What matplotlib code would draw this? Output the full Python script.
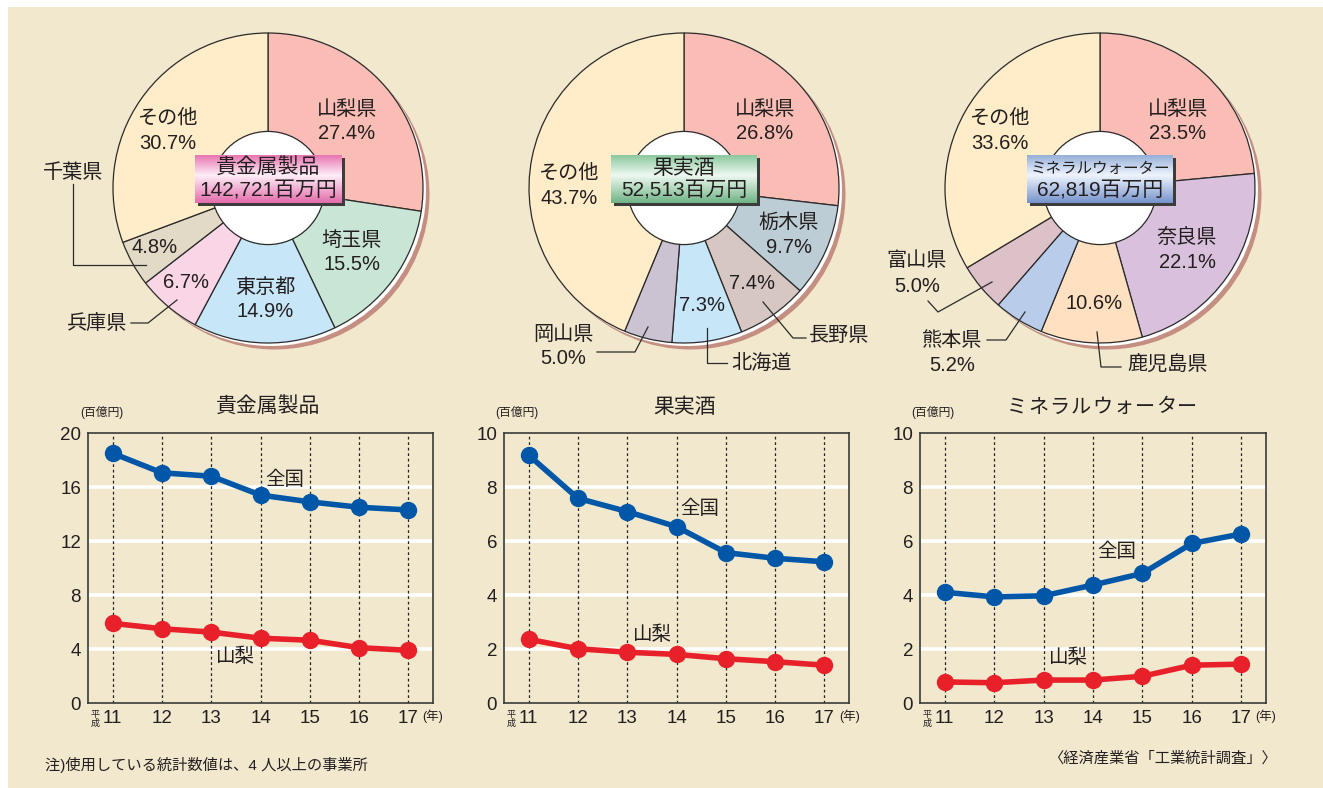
import numpy as np
import matplotlib
matplotlib.use("Agg")
import matplotlib.pyplot as plt
from matplotlib.patches import Circle, Rectangle

plt.rcParams['font.family'] = ['Liberation Sans', 'Noto Sans CJK JP', 'DejaVu Sans']

# ---------------- data ----------------
pie1_title = "貴金属製品"
pie1_total = "142,721百万円"
pie1_labels = ["山梨県", "埼玉県", "東京都", "兵庫県", "千葉県", "その他"]
pie1_values = [27.4, 15.5, 14.9, 6.7, 4.8, 30.7]
pie1_colors = ["#F9BDB5", "#C9E5D5", "#C7E7F9", "#F9D5E5", "#E2DAC6", "#FFEDC9"]

pie2_title = "果実酒"
pie2_total = "52,513百万円"
pie2_labels = ["山梨県", "栃木県", "長野県", "北海道", "岡山県", "その他"]
pie2_values = [26.8, 9.7, 7.4, 7.3, 5.0, 43.7]
pie2_colors = ["#F9BDB5", "#BDCDD5", "#D6C7C3", "#C7E7F9", "#CBC3D1", "#FFEDC9"]

pie3_title = "ミネラルウォーター"
pie3_total = "62,819百万円"
pie3_labels = ["山梨県", "奈良県", "鹿児島県", "熊本県", "富山県", "その他"]
pie3_values = [23.5, 22.1, 10.6, 5.2, 5.0, 33.6]
pie3_colors = ["#F9BDB5", "#D9C1DD", "#FFE1C1", "#B9CDEB", "#DDC1C9", "#FFEDC9"]

years = [11, 12, 13, 14, 15, 16, 17]
kikinzoku_zenkoku = [18.5, 17.05, 16.8, 15.4, 14.9, 14.5, 14.3]
kikinzoku_yamanashi = [5.9, 5.5, 5.25, 4.8, 4.65, 4.1, 3.9]
kajitsushu_zenkoku = [9.18, 7.58, 7.09, 6.53, 5.57, 5.36, 5.23]
kajitsushu_yamanashi = [2.36, 2.01, 1.88, 1.80, 1.64, 1.53, 1.40]
mineral_zenkoku = [4.1, 3.93, 3.97, 4.37, 4.8, 5.91, 6.26]
mineral_yamanashi = [0.78, 0.75, 0.85, 0.85, 0.99, 1.40, 1.44]

# ---------------- figure ----------------
W, H = 1323, 788
fig = plt.figure(figsize=(W / 100, H / 100), dpi=100, facecolor="white")
BG = "#F1E8CE"
TXT = "#231F20"

ax_bg = fig.add_axes([0, 0, 1, 1], zorder=-10)
ax_bg.set_xlim(0, W)
ax_bg.set_ylim(H, 0)
ax_bg.axis("off")
ax_bg.add_patch(Rectangle((8, 7), W, H, facecolor=BG, edgecolor="none"))


def px_axes(x0, y0, x1, y1, **kw):
    return fig.add_axes([x0 / W, 1 - y1 / H, (x1 - x0) / W, (y1 - y0) / H], **kw)


R = 155.0
LIM = 1.2


def draw_pie(cx, cy, values, colors):
    s = R * LIM
    ax = px_axes(cx - s, cy - s, cx + s, cy + s)
    ax.set_facecolor("none")
    off1 = 3.0 / R
    off2 = 6.5 / R
    ax.add_patch(Circle((off2, -off2), 1.0, facecolor="#C48E80", edgecolor="none", zorder=0))
    ax.add_patch(Circle((off1, -off1), 1.0, facecolor="white", edgecolor="none", zorder=0.5))
    wedges, _ = ax.pie(values, colors=colors, startangle=90, counterclock=False,
                       radius=1.0,
                       wedgeprops=dict(edgecolor="#2A2A2A", linewidth=0.9))
    for w in wedges:
        w.set_zorder(1)
    ax.add_patch(Circle((0, 0), 0.365, facecolor="white", edgecolor="#2A2A2A",
                        linewidth=0.9, zorder=2))
    ax.set_xlim(-LIM, LIM)
    ax.set_ylim(-LIM, LIM)
    ax.set_aspect("equal")
    ax.axis("off")
    return ax


draw_pie(268, 188, pie1_values, pie1_colors)
draw_pie(684, 188, pie2_values, pie2_colors)
draw_pie(1100, 188, pie3_values, pie3_colors)


# ---------------- line charts ----------------
def draw_line(x0, x1, ymax, zen, yam, yticks):
    ax = px_axes(x0, 433, x1, 703)
    ax.set_facecolor("none")
    ax.set_xlim(10.5, 17.5)
    ax.set_ylim(0, ymax)
    for t in yticks[1:-1]:
        ax.axhline(t, color="white", lw=2.6, zorder=1)
    for yr in years:
        ax.axvline(yr, color="#222222", lw=0.9, ls=(0, (2.2, 2.2)), zorder=2)
    ax.plot(years, zen, color="#0057A8", lw=4, marker="o", ms=11.5, zorder=4,
            solid_capstyle="round")
    ax.plot(years, yam, color="#E8202A", lw=4, marker="o", ms=11.5, zorder=4,
            solid_capstyle="round")
    ax.set_yticks(yticks)
    ax.set_yticklabels([str(t) for t in yticks])
    ax.set_xticks(years)
    ax.set_xticklabels([str(y) for y in years])
    ax.tick_params(length=0, labelsize=13.5, colors=TXT, pad=5)
    for sp in ax.spines.values():
        sp.set_color("#3A3A3A")
        sp.set_linewidth(1.2)
        sp.set_zorder(5)
    return ax


draw_line(88, 433, 20, kikinzoku_zenkoku, kikinzoku_yamanashi, [0, 4, 8, 12, 16, 20])
draw_line(504, 849, 10, kajitsushu_zenkoku, kajitsushu_yamanashi, [0, 2, 4, 6, 8, 10])
draw_line(920, 1266, 10, mineral_zenkoku, mineral_yamanashi, [0, 2, 4, 6, 8, 10])

# ---------------- overlay ----------------
ov = fig.add_axes([0, 0, 1, 1], zorder=20)
ov.set_facecolor("none")
ov.axis("off")


def grad_img(top, mid, bot, n=64):
    t = np.linspace(0, 1, n)
    top, mid, bot = [np.array(c, float) / 255 for c in (top, mid, bot)]
    rows = []
    for v in t:
        if v < 0.42:
            f = v / 0.42
            c = top * (1 - f) + mid * f
        else:
            f = (v - 0.42) / 0.58
            c = mid * (1 - f) + bot * f
        rows.append(c)
    return np.array(rows)[:, None, :]


def center_box(x0, x1, y0, y1, grad, line1, line2, fs1=15):
    ov.add_patch(Rectangle((x0 + 3, y0 + 3), x1 - x0, y1 - y0, facecolor="#3C3C3C",
                           edgecolor="none", zorder=3))
    ov.imshow(grad, extent=(x0, x1, y1, y0), origin="upper", aspect="auto", zorder=4,
              interpolation="bilinear")
    cx = (x0 + x1) / 2
    ov.text(cx, y0 + 13, line1, ha="center", va="center", fontsize=fs1, color=TXT, zorder=6)
    ov.text(cx, y0 + 36, line2, ha="center", va="center", fontsize=15, color=TXT, zorder=6)


center_box(195, 342, 155, 203, grad_img((232, 118, 178), (254, 238, 247), (228, 108, 172)),
           pie1_title, pie1_total)
center_box(611, 757, 155, 203, grad_img((140, 200, 158), (238, 249, 240), (112, 180, 134)),
           pie2_title, pie2_total)
center_box(1027, 1173, 155, 203, grad_img((150, 176, 216), (238, 244, 253), (118, 148, 204)),
           pie3_title, pie3_total, fs1=11.2)


def lab(x, y, s, fs=14.5, ha="center"):
    ov.text(x, y, s, ha=ha, va="center", fontsize=fs, color=TXT, zorder=6)


def leader(xs, ys):
    ov.plot(xs, ys, color="#2A2A2A", lw=0.9, zorder=6)


# pie 1 labels
lab(347, 109, pie1_labels[0]); lab(347, 133, "27.4%")
lab(352, 240, pie1_labels[1]); lab(352, 265, "15.5%")
lab(265, 287, pie1_labels[2]); lab(265, 311, "14.9%")
lab(186, 282, "6.7%")
lab(155, 247, "4.8%")
lab(168, 118, pie1_labels[5]); lab(168, 143, "30.7%")
lab(73, 172, pie1_labels[4])
leader([73, 73, 146], [184, 265, 265])
lab(97, 323, pie1_labels[3])
leader([131, 148, 177], [323, 323, 300])

# pie 2 labels
lab(765, 109, pie2_labels[0]); lab(765, 133, "26.8%")
lab(789, 222, pie2_labels[1]); lab(789, 247, "9.7%")
lab(752, 283, "7.4%")
lab(702, 305, "7.3%")
lab(569, 173, pie2_labels[5]); lab(569, 198, "43.7%")
lab(563, 334, pie2_labels[4]); lab(563, 358, "5.0%")
leader([597, 635, 648], [352, 352, 327])
lab(761, 363, pie2_labels[3])
leader([707, 707, 727], [328, 363, 363])
lab(839, 335, pie2_labels[2])
leader([763, 793, 806], [302, 338, 338])

# pie 3 labels
lab(1178, 109, pie3_labels[0]); lab(1178, 133, "23.5%")
lab(1187, 237, pie3_labels[1]); lab(1187, 262, "22.1%")
lab(1094, 303, "10.6%")
lab(1000, 118, pie3_labels[5]); lab(1000, 143, "33.6%")
lab(917, 261, pie3_labels[4]); lab(917, 286, "5.0%")
leader([928, 938, 992], [301, 312, 282])
lab(952, 340, pie3_labels[3]); lab(952, 365, "5.2%")
leader([987, 1006, 1025], [340, 340, 312])
lab(1168, 365, pie3_labels[2])
leader([1097, 1101, 1121], [332, 367, 367])

# line chart titles & annotations
lab(268, 407, "貴金属製品", fs=15)
lab(685, 407, "果実酒", fs=15)
title3 = "ミネラルウォーター"
for i, ch in enumerate(title3):
    lab(1017 + i * 21.3, 407, ch, fs=14.5)

for xl in (102, 517, 933):
    lab(xl, 412, "(百億円)", fs=8.5)

for (x0, x17) in ((113, 408), (529, 825), (945, 1241)):
    ov.text(x0 - 18, 719, "平\n成", ha="center", va="center", fontsize=6.5,
            color=TXT, linespacing=0.95, zorder=6)
    ov.text(x17 + 25, 716, "(年)", ha="center", va="center", fontsize=9, color=TXT, zorder=6)

lab(285, 480, "全国", fs=14)
lab(235, 657, "山梨", fs=14)
lab(700, 509, "全国", fs=14)
lab(652, 635, "山梨", fs=14)
lab(1117, 552, "全国", fs=14)
lab(1068, 658, "山梨", fs=14)

# notes
ov.text(45, 765, "注)使用している統計数値は、4 人以上の事業所", ha="left", va="center",
        fontsize=11, color=TXT, zorder=6)
ov.text(1277, 759, "〈経済産業省「工業統計調査」〉", ha="right", va="center",
        fontsize=11, color=TXT, zorder=6)

ov.set_xlim(0, W)
ov.set_ylim(H, 0)

fig.savefig("out.png", dpi=100, facecolor=fig.get_facecolor())
